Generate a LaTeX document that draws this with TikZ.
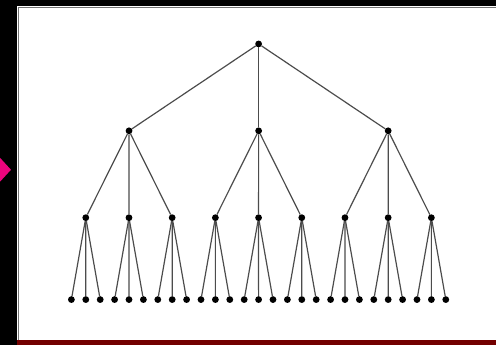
\documentclass[tikz,border=0pt]{standalone}
\begin{document}
\begin{tikzpicture}[x=0.05cm,y=-0.05cm,
  dot/.style={circle,fill=black,inner sep=0pt,minimum size=0.34cm},
  edge/.style={draw=black!70,line width=1.7pt}]
% frame
\fill[black] (0,0) rectangle (497,345);
\fill[white] (17,6) rectangle (497,340);
\fill[red!45!black] (17,340) rectangle (497,345);
\draw[black!55,line width=2pt] (18.5,340) -- (18.5,7.5) -- (497,7.5);
\fill[magenta!85!red] (0,158) -- (11,170) -- (0,182) -- cycle;

% tree
\node[dot] (r) at (259,44) {};
\foreach \i/\x in {1/129.2,2/259,3/388.7} {
  \node[dot] (a\i) at (\x,131) {};
  \draw[edge] (r) -- (a\i);
}
\foreach \i in {1,...,9} {
  \pgfmathtruncatemacro\p{(\i+2)/3}
  \node[dot] (b\i) at ({85.9+(\i-1)*43.26},218) {};
  \draw[edge] (a\p) -- (b\i);
}
\foreach \k in {1,...,27} {
  \pgfmathtruncatemacro\p{(\k+2)/3}
  \node[dot] (c\k) at ({71.5+(\k-1)*14.42},300) {};
  \draw[edge] (b\p) -- (c\k);
}
\end{tikzpicture}
\end{document}
